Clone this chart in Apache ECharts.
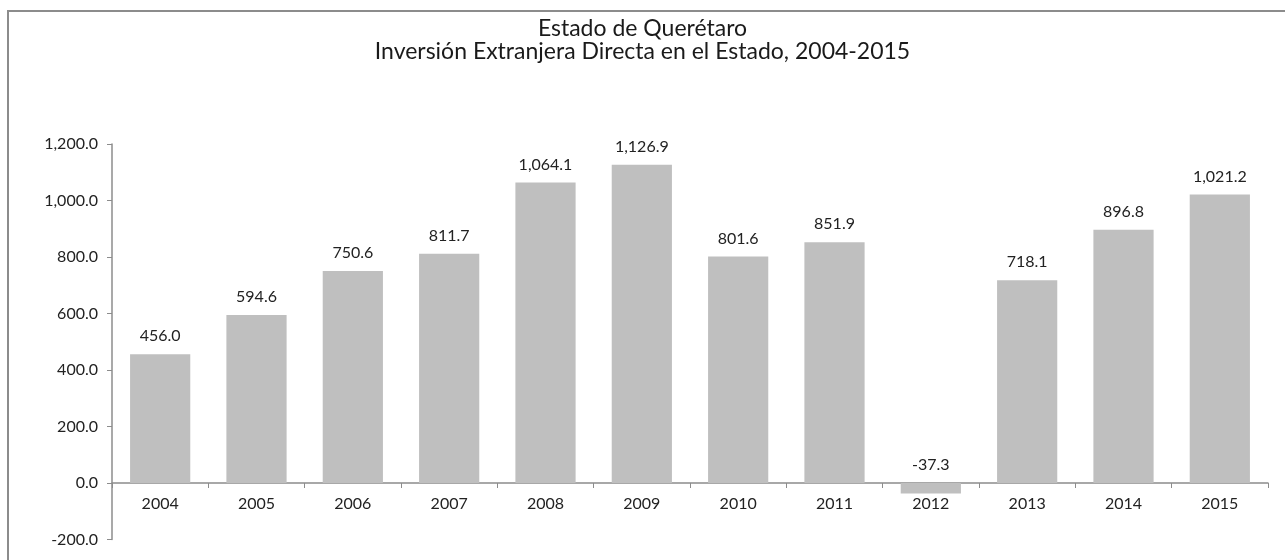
<!DOCTYPE html>
<html>
<head>
<meta charset="utf-8">
<script src="https://cdn.jsdelivr.net/npm/echarts@6/dist/echarts.min.js"></script>
<style>
  html, body { margin: 0; padding: 0; background: #fff; }
  #main { width: 1285px; height: 560px; }
</style>
</head>
<body>
<div id="main"></div>
<script>
var years = ['2004', '2005', '2006', '2007', '2008', '2009', '2010', '2011', '2012', '2013', '2014', '2015'];
var ied = [456.0, 594.6, 750.6, 811.7, 1064.1, 1126.9, 801.6, 851.9, -37.3, 718.1, 896.8, 1021.2];

function fmt(v) {
  return Number(v).toLocaleString('en-US', {minimumFractionDigits: 1, maximumFractionDigits: 1});
}

var myChart = echarts.init(document.getElementById('main'));
var font = 'Lato, "Noto Sans", sans-serif';

// grid: -200 at bottom, 0 sits 1/7 of the height above it
var gridTop = 144, gridBottom = 20.5;
var plotH = 560 - gridTop - gridBottom;
var zeroOffset = -plotH / 7;

var option = {
  animation: false,
  textStyle: {fontFamily: font},
  title: {
    text: 'Estado de Querétaro\nInversión Extranjera Directa en el Estado, 2004-2015',
    left: 'center',
    top: 12,
    textStyle: {fontSize: 23, fontWeight: 'normal', color: '#1a1a1a', lineHeight: 23, fontFamily: font}
  },
  graphic: [{
    type: 'rect',
    shape: {x: 8, y: 11, width: 1300, height: 600},
    style: {fill: 'none', stroke: '#8c8c8c', lineWidth: 2},
    silent: true
  }],
  grid: {left: 112, right: 17, top: gridTop, bottom: gridBottom},
  xAxis: {
    type: 'category',
    data: years,
    offset: zeroOffset,
    axisLine: {onZero: false, lineStyle: {color: '#8c8c8c', width: 1.5}},
    axisTick: {show: true, length: 5, lineStyle: {color: '#8c8c8c'}},
    axisLabel: {color: '#222', fontSize: 16, margin: 13}
  },
  yAxis: {
    type: 'value',
    min: -200,
    max: 1200,
    interval: 200,
    splitLine: {show: false},
    axisLine: {show: true, lineStyle: {color: '#8c8c8c', width: 1.5}},
    axisTick: {show: true, length: 5, lineStyle: {color: '#8c8c8c'}},
    axisLabel: {color: '#222', fontSize: 16, margin: 14, formatter: fmt}
  },
  series: [{
    type: 'bar',
    data: ied,
    barCategoryGap: '37.5%',
    itemStyle: {color: '#bfbfbf'},
    label: {
      show: true,
      position: 'top',
      distance: 10,
      color: '#222',
      fontSize: 16,
      formatter: function (p) { return fmt(p.value); }
    }
  }]
};
myChart.setOption(option);
</script>
</body>
</html>
